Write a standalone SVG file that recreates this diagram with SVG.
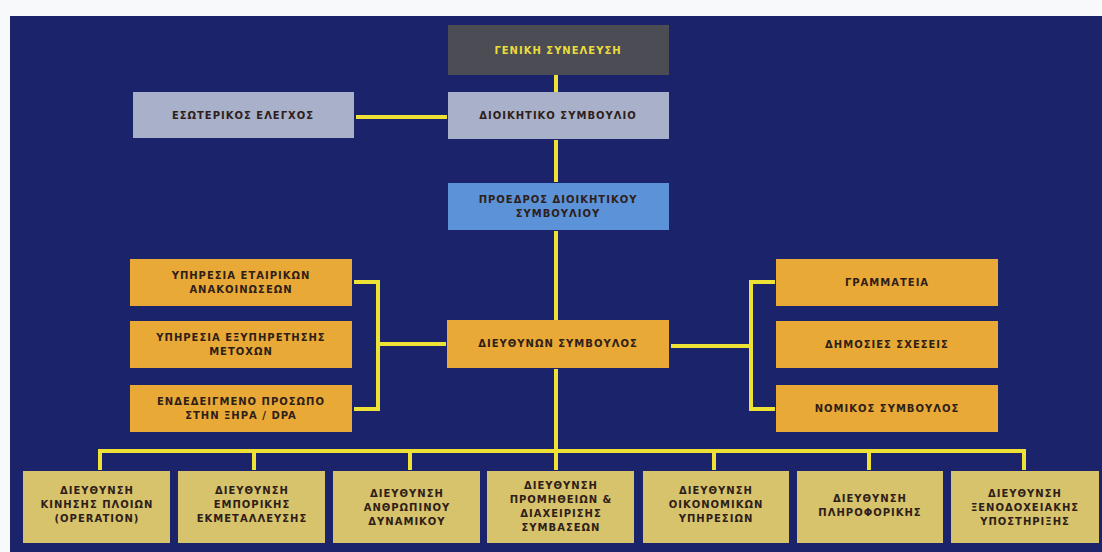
<svg xmlns="http://www.w3.org/2000/svg" width="1102" height="552" viewBox="0 0 1102 552">
<style>
.bg{fill:#1b246b}
.gen{fill:#4c4c55}
.gray{fill:#a8b1c9}
.blue{fill:#5b92d8}
.org{fill:#e8a936}
.kha{fill:#d7c36b}
text{font-family:"DejaVu Sans","Liberation Sans",sans-serif;font-weight:bold;font-size:10px;fill:#2e2019;text-anchor:middle;letter-spacing:1px}
.yt{fill:#e9dc3c}
.c{stroke:#efe236;stroke-width:4;fill:none;stroke-linecap:square}
</style>
<rect x="0" y="0" width="1102" height="552" fill="#f8f9fb"/>
<rect class="bg" x="10" y="16" width="1092" height="536"/>
<g id="connectors">
<path class="c" d="M556 76V91"/>
<path class="c" d="M358 117H445"/>
<path class="c" d="M556 142V180"/>
<path class="c" d="M556 233V318"/>
<path class="c" d="M356 282H378V409H356M378 344H444"/>
<path class="c" d="M773 282H751V409H773M751 346H673"/>
<path class="c" d="M556 371V451"/>
<path class="c" d="M100 468V451H1024V468M254 451V468M410 451V468M556 451V468M714 451V468M869 451V468"/>
</g>
<g id="n_gen"><rect class="gen" x="448" y="25" width="221" height="50"/><text class="yt" x="558" y="54">ΓΕΝΙΚΗ ΣΥΝΕΛΕΥΣΗ</text></g>
<g id="n_dioik"><rect class="gray" x="448" y="92" width="221" height="47"/><text x="558" y="119">ΔΙΟΙΚΗΤΙΚΟ ΣΥΜΒΟΥΛΙΟ</text></g>
<g id="n_eswt"><rect class="gray" x="133" y="92" width="221" height="46"/><text x="243" y="119">ΕΣΩΤΕΡΙΚΟΣ ΕΛΕΓΧΟΣ</text></g>
<g id="n_proedros"><rect class="blue" x="448" y="183" width="221" height="47"/><text x="558" y="203">ΠΡΟΕΔΡΟΣ ΔΙΟΙΚΗΤΙΚΟΥ</text><text x="558" y="217">ΣΥΜΒΟΥΛΙΟΥ</text></g>
<g id="n_ceo"><rect class="org" x="447" y="320" width="222" height="48"/><text x="558" y="347">ΔΙΕΥΘΥΝΩΝ ΣΥΜΒΟΥΛΟΣ</text></g>
<g id="n_l1"><rect class="org" x="130" y="259" width="222" height="47"/><text x="241" y="279">ΥΠΗΡΕΣΙΑ ΕΤΑΙΡΙΚΩΝ</text><text x="241" y="293">ΑΝΑΚΟΙΝΩΣΕΩΝ</text></g>
<g id="n_l2"><rect class="org" x="130" y="321" width="222" height="47"/><text x="241" y="341">ΥΠΗΡΕΣΙΑ ΕΞΥΠΗΡΕΤΗΣΗΣ</text><text x="241" y="355">ΜΕΤΟΧΩΝ</text></g>
<g id="n_l3"><rect class="org" x="130" y="385" width="222" height="47"/><text x="241" y="405">ΕΝΔΕΔΕΙΓΜΕΝΟ ΠΡΟΣΩΠΟ</text><text x="241" y="419">ΣΤΗΝ ΞΗΡΑ / DPA</text></g>
<g id="n_r1"><rect class="org" x="776" y="259" width="222" height="47"/><text x="887" y="286">ΓΡΑΜΜΑΤΕΙΑ</text></g>
<g id="n_r2"><rect class="org" x="776" y="321" width="222" height="47"/><text x="887" y="348">ΔΗΜΟΣΙΕΣ ΣΧΕΣΕΙΣ</text></g>
<g id="n_r3"><rect class="org" x="776" y="385" width="222" height="47"/><text x="887" y="412">ΝΟΜΙΚΟΣ ΣΥΜΒΟΥΛΟΣ</text></g>
<g id="n_b1"><rect class="kha" x="23" y="471" width="147" height="72"/><text x="97" y="494">ΔΙΕΥΘΥΝΣΗ</text><text x="97" y="508">ΚΙΝΗΣΗΣ ΠΛΟΙΩΝ</text><text x="97" y="522">(OPERATION)</text></g>
<g id="n_b2"><rect class="kha" x="178" y="471" width="147" height="72"/><text x="252" y="494">ΔΙΕΥΘΥΝΣΗ</text><text x="252" y="508">ΕΜΠΟΡΙΚΗΣ</text><text x="252" y="522">ΕΚΜΕΤΑΛΛΕΥΣΗΣ</text></g>
<g id="n_b3"><rect class="kha" x="333" y="471" width="147" height="72"/><text x="407" y="497">ΔΙΕΥΘΥΝΣΗ</text><text x="407" y="511">ΑΝΘΡΩΠΙΝΟΥ</text><text x="407" y="525">ΔΥΝΑΜΙΚΟΥ</text></g>
<g id="n_b4"><rect class="kha" x="487" y="471" width="147" height="72"/><text x="561" y="489">ΔΙΕΥΘΥΝΣΗ</text><text x="561" y="503">ΠΡΟΜΗΘΕΙΩΝ &amp;</text><text x="561" y="517">ΔΙΑΧΕΙΡΙΣΗΣ</text><text x="561" y="531">ΣΥΜΒΑΣΕΩΝ</text></g>
<g id="n_b5"><rect class="kha" x="643" y="471" width="146" height="72"/><text x="716" y="494">ΔΙΕΥΘΥΝΣΗ</text><text x="716" y="508">ΟΙΚΟΝΟΜΙΚΩΝ</text><text x="716" y="522">ΥΠΗΡΕΣΙΩΝ</text></g>
<g id="n_b6"><rect class="kha" x="797" y="471" width="146" height="72"/><text x="870" y="502">ΔΙΕΥΘΥΝΣΗ</text><text x="870" y="516">ΠΛΗΡΟΦΟΡΙΚΗΣ</text></g>
<g id="n_b7"><rect class="kha" x="951" y="471" width="148" height="72"/><text x="1025" y="497">ΔΙΕΥΘΥΝΣΗ</text><text x="1025" y="511">ΞΕΝΟΔΟΧΕΙΑΚΗΣ</text><text x="1025" y="525">ΥΠΟΣΤΗΡΙΞΗΣ</text></g>
</svg>
